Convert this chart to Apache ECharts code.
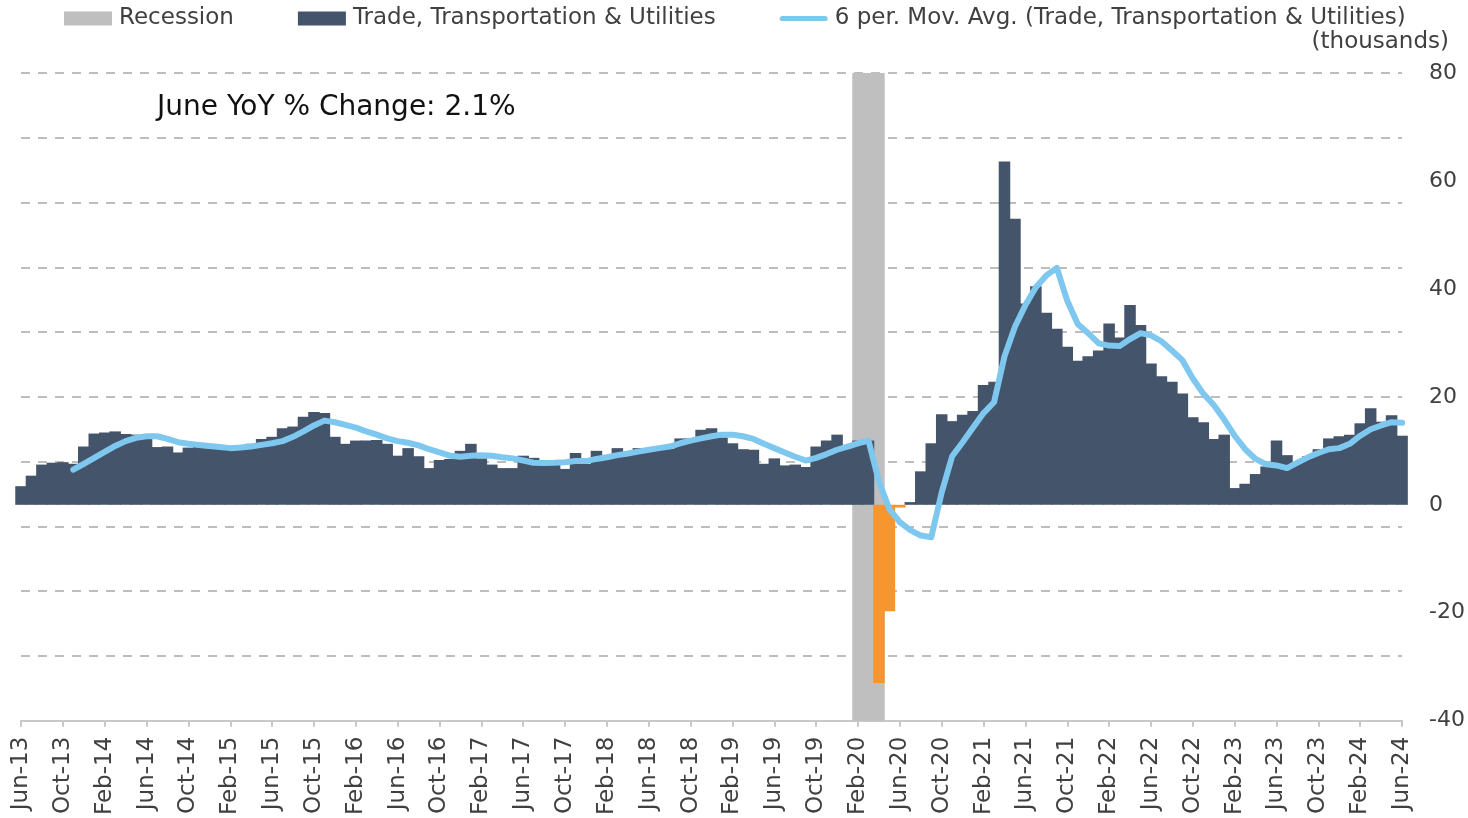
<!DOCTYPE html>
<html>
<head>
<meta charset="utf-8">
<title>Trade, Transportation & Utilities</title>
<script src="https://cdn.jsdelivr.net/npm/echarts@6/dist/echarts.min.js"></script>
<style>
  html, body { margin: 0; padding: 0; background: #fff; }
  #chart { width: 1468px; height: 818px; }
</style>
</head>
<body>
<div id="chart"></div>
<script>
// Month categories, Jun-13 .. Jun-24
const months = [
  "Jun-13", "Jul-13", "Aug-13", "Sep-13", "Oct-13", "Nov-13", "Dec-13",
  "Jan-14", "Feb-14", "Mar-14", "Apr-14", "May-14", "Jun-14", "Jul-14", "Aug-14", "Sep-14", "Oct-14", "Nov-14", "Dec-14",
  "Jan-15", "Feb-15", "Mar-15", "Apr-15", "May-15", "Jun-15", "Jul-15", "Aug-15", "Sep-15", "Oct-15", "Nov-15", "Dec-15",
  "Jan-16", "Feb-16", "Mar-16", "Apr-16", "May-16", "Jun-16", "Jul-16", "Aug-16", "Sep-16", "Oct-16", "Nov-16", "Dec-16",
  "Jan-17", "Feb-17", "Mar-17", "Apr-17", "May-17", "Jun-17", "Jul-17", "Aug-17", "Sep-17", "Oct-17", "Nov-17", "Dec-17",
  "Jan-18", "Feb-18", "Mar-18", "Apr-18", "May-18", "Jun-18", "Jul-18", "Aug-18", "Sep-18", "Oct-18", "Nov-18", "Dec-18",
  "Jan-19", "Feb-19", "Mar-19", "Apr-19", "May-19", "Jun-19", "Jul-19", "Aug-19", "Sep-19", "Oct-19", "Nov-19", "Dec-19",
  "Jan-20", "Feb-20", "Mar-20", "Apr-20", "May-20", "Jun-20", "Jul-20", "Aug-20", "Sep-20", "Oct-20", "Nov-20", "Dec-20",
  "Jan-21", "Feb-21", "Mar-21", "Apr-21", "May-21", "Jun-21", "Jul-21", "Aug-21", "Sep-21", "Oct-21", "Nov-21", "Dec-21",
  "Jan-22", "Feb-22", "Mar-22", "Apr-22", "May-22", "Jun-22", "Jul-22", "Aug-22", "Sep-22", "Oct-22", "Nov-22", "Dec-22",
  "Jan-23", "Feb-23", "Mar-23", "Apr-23", "May-23", "Jun-23", "Jul-23", "Aug-23", "Sep-23", "Oct-23", "Nov-23", "Dec-23",
  "Jan-24", "Feb-24", "Mar-24", "Apr-24", "May-24", "Jun-24"
];

// YoY change, thousands
const tradeYoY = [
  3.45, 5.4, 7.45, 7.8, 7.9, 7.6, 10.8,
  13.2, 13.4, 13.6, 13.1, 13.0, 12.8, 10.7, 10.8, 9.7, 10.6, 10.8, 10.5,
  10.4, 10.6, 10.9, 11.3, 12.2, 12.6, 14.2, 14.5, 16.3, 17.2, 17.0, 12.6,
  11.3, 11.9, 11.9, 12.0, 11.3, 9.1, 10.5, 9.0, 6.8, 8.3, 8.5, 10.0,
  11.3, 8.6, 7.45, 6.8, 6.8, 9.1, 8.7, 7.9, 7.9, 6.65, 9.6, 7.6,
  10.0, 8.9, 10.5, 9.7, 10.5, 10.0, 10.8, 10.4, 12.3, 12.3, 13.9, 14.2,
  12.5, 11.4, 10.3, 10.2, 7.6, 8.6, 7.3, 7.45, 7.0, 10.8, 11.9, 13.0,
  10.5, 11.9, 11.9, -33.0, -19.7, -0.5, 0.5, 6.2, 11.4, 16.8, 15.5, 16.7,
  17.4, 22.2, 22.8, 63.6, 53.0, 37.3, 40.5, 35.6, 32.6, 29.3, 26.7, 27.5,
  28.6, 33.6, 31.0, 37.0, 33.3, 26.2, 23.8, 22.8, 20.6, 16.2, 15.3, 12.2,
  13.0, 3.1, 3.9, 5.7, 7.1, 11.9, 9.2, 7.8, 9.0, 10.3, 12.3, 12.7,
  13.0, 15.1, 17.9, 15.4, 16.6, 12.8
];

// 6 period moving average line
const movingAvg = [
  null, null, null, null, null, 6.5, 7.6,
  8.7, 9.8, 10.9, 11.8, 12.4, 12.7, 12.7, 12.2, 11.6, 11.3, 11.1, 10.9,
  10.7, 10.5, 10.6, 10.8, 11.1, 11.4, 11.8, 12.6, 13.6, 14.7, 15.6, 15.3,
  14.8, 14.3, 13.6, 13.0, 12.3, 11.8, 11.5, 11.0, 10.3, 9.7, 9.1, 8.9,
  9.1, 9.2, 9.1, 8.8, 8.6, 8.2, 7.8, 7.75, 7.8, 7.9, 8.1, 8.1,
  8.5, 8.8, 9.2, 9.5, 9.85, 10.2, 10.5, 10.8, 11.4, 11.9, 12.3, 12.7,
  13.0, 13.0, 12.7, 12.2, 11.3, 10.5, 9.7, 8.9, 8.2, 8.7, 9.4, 10.2,
  10.8, 11.4, 11.9, 4.3, -0.8, -3.2, -4.7, -5.7, -6.0, 2.3, 9.0, 11.6,
  14.3, 17.0, 19.0, 27.5, 33.0, 37.0, 40.3, 42.5, 43.9, 37.8, 33.5, 31.8,
  29.9, 29.5, 29.4, 30.7, 31.8, 31.4, 30.3, 28.6, 26.8, 23.4, 20.6, 18.5,
  15.8, 12.8, 10.3, 8.5, 7.5, 7.3, 6.8, 7.8, 8.8, 9.6, 10.3, 10.5,
  11.3, 12.8, 14.0, 14.7, 15.3, 15.2
];

const recessionMonths = ["Feb-20", "Mar-20", "Apr-20"];
const yTicks = [-40, -20, 0, 20, 40, 60, 80];

const FONT = "DejaVu Sans";
const TEXT = "#404040";
const DARK = "#44546a";
const ORANGE = "#f7952f";
const GREY = "#bfbfbf";
const BLUE = "#7ec8ef";
const NAME_BAR = "Trade, Transportation & Utilities";
const NAME_MA = "6 per. Mov. Avg. (Trade, Transportation & Utilities)";

const chart = echarts.init(document.getElementById("chart"));

// split gains / losses so each gets its own colour
const recessionData = months.map((m) => (recessionMonths.includes(m) ? 1 : "-"));
const gains = tradeYoY.map((v) => (v >= 0 ? v : "-"));
const losses = tradeYoY.map((v) => (v < 0 ? v : "-"));

// bars a touch wider than the band so neighbours overlap (no hairline seams)
const barBase = {
  type: "bar",
  yAxisIndex: 0,
  barGap: "-100%",
  barWidth: "110%",
};

const option = {
  animation: false,
  backgroundColor: "#fff",
  textStyle: { fontFamily: FONT, color: TEXT },
  title: [
    {
      text: "June YoY % Change: 2.1%",
      left: 157,
      top: 94,
      padding: 0,
      textStyle: { fontFamily: FONT, fontSize: 28, fontWeight: "normal", color: "#111" },
    },
    {
      text: "(thousands)",
      right: 19,
      top: 31,
      padding: 0,
      textStyle: { fontFamily: FONT, fontSize: 23, fontWeight: "normal", color: TEXT },
    },
  ],
  legend: {
    left: 64,
    top: 7,
    padding: 0,
    itemGap: 64,
    itemWidth: 48,
    itemHeight: 14,
    textStyle: { fontFamily: FONT, fontSize: 23, color: TEXT, padding: [0, 0, 0, 2] },
    data: [
      { name: "Recession", icon: "rect", itemStyle: { color: GREY } },
      { name: NAME_BAR, icon: "rect", itemStyle: { color: DARK } },
      {
        name: NAME_MA,
        icon: "path://M3,0 L52,0 A3,3 0 0 1 52,6 L3,6 A3,3 0 0 1 3,0 Z",
        itemStyle: { color: BLUE },
      },
    ],
  },
  grid: { left: 21, right: 64, top: 73, bottom: 96, containLabel: false },
  xAxis: {
    type: "category",
    data: months,
    boundaryGap: false,
    axisLine: { onZero: false, lineStyle: { color: "#c8c8c8", width: 2 } },
    axisTick: { interval: 3, length: 6, lineStyle: { color: "#c8c8c8", width: 2 } },
    axisLabel: {
      interval: 3,
      rotate: 90,
      margin: 16,
      fontSize: 23,
      color: TEXT,
      fontFamily: FONT,
    },
    splitLine: { show: false },
  },
  yAxis: [
    {
      type: "value",
      position: "right",
      min: yTicks[0],
      max: yTicks[yTicks.length - 1],
      interval: 20,
      axisLine: { show: false },
      axisTick: { show: false },
      splitLine: { show: false },
      axisLabel: { margin: 27, fontSize: 22, color: TEXT, fontFamily: FONT },
    },
    {
      // dashed gridlines (ten bands across the plot)
      type: "value",
      position: "left",
      min: 0,
      max: 10,
      interval: 1,
      axisLine: { show: false },
      axisTick: { show: false },
      axisLabel: { show: false },
      splitLine: {
        show: true,
        showMinLine: false,
        lineStyle: { color: "#bdbdbd", width: 2, type: [9, 8] },
      },
    },
    {
      type: "value",
      min: 0,
      max: 1,
      show: false,
    },
  ],
  series: [
    {
      ...barBase,
      name: "Recession",
      yAxisIndex: 2,
      data: recessionData,
      itemStyle: { color: GREY },
      z: 1,
      silent: true,
    },
    {
      ...barBase,
      name: NAME_BAR,
      data: gains,
      itemStyle: { color: DARK },
      z: 2,
    },
    {
      ...barBase,
      name: "losses",
      data: losses,
      itemStyle: { color: ORANGE },
      z: 2,
    },
    {
      name: NAME_MA,
      type: "line",
      yAxisIndex: 0,
      data: movingAvg,
      symbol: "none",
      smooth: false,
      lineStyle: { color: BLUE, width: 6, cap: "round", join: "round" },
      itemStyle: { color: BLUE },
      z: 3,
    },
  ],
};

chart.setOption(option);
window.addEventListener("resize", () => chart.resize());
</script>
</body>
</html>
